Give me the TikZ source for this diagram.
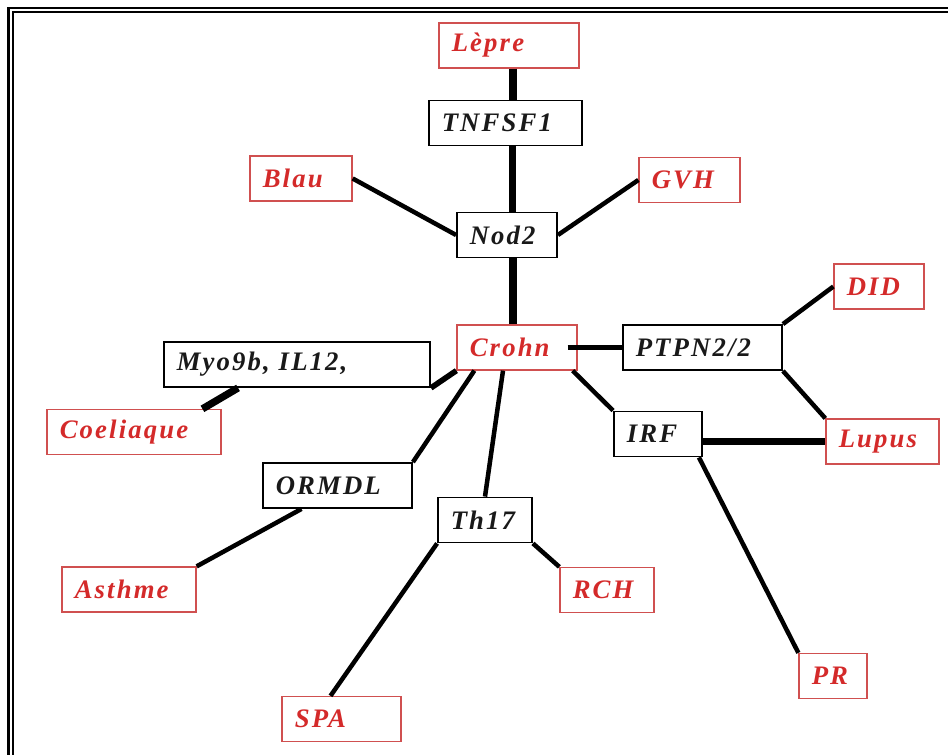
\documentclass[tikz,border=0pt]{standalone}
\usepackage{fontspec}
\usepackage{tikz}
\usetikzlibrary{calc}
\newfontfamily\boxfont{Liberation Serif}[LetterSpace=8]
\definecolor{disred}{HTML}{D42A2A}
\definecolor{disframe}{HTML}{D05050}

\begin{document}
\begin{tikzpicture}[x=0.025cm, y=-0.025cm,
    bx/.style={rectangle, fill=white, minimum height=1.125cm, inner xsep=0.32cm,
      inner ysep=0, align=left, font=\boxfont\bfseries\itshape\fontsize{19}{21}\selectfont},
    dis/.style={bx, draw=disframe, line width=0.9pt, text=disred},
    gen/.style={bx, draw=black, line width=1.3pt, text=black!90},
    lk/.style={line width=3.2pt},
    lkm/.style={line width=4pt},
    lkk/.style={line width=5.2pt}]
\useasboundingbox (0,0) rectangle (948,755);
% double frame, top and left only
\draw[line width=2.1pt] (8.5,755) -- (8.5,8) -- (948,8);
\draw[line width=1.4pt] (13,755) -- (13,12.2) -- (948,12.2);
% boxes
\node[dis, text width=2.86cm]  (lepre)  at (509,45.5)   {Lèpre};
\node[gen, text width=3.185cm] (tnf)    at (505.5,123)  {TNFSF1};
\node[gen, text width=1.86cm]  (nod)    at (507,235)    {Nod2};
\node[dis, text width=1.91cm]  (blau)   at (301,178.5)  {Blau};
\node[dis, text width=1.885cm] (gvh)    at (689.5,180)  {GVH};
\node[dis, text width=2.36cm]  (crohn)  at (517,347.5)  {Crohn};
\node[gen, text width=6.01cm]  (myo)    at (297,364.5)  {Myo9b, IL12,};
\node[dis, text width=3.71cm]  (coel)   at (134,432)    {Coeliaque};
\node[gen, text width=3.335cm] (ptpn)   at (702.5,347.5) {PTPN2/2};
\node[dis, text width=1.61cm]  (did)    at (879,286.5)  {DID};
\node[gen, text width=1.56cm]  (irf)    at (658,434)    {IRF};
\node[dis, text width=2.185cm] (lupus)  at (882.5,441.5) {Lupus};
\node[gen, text width=3.085cm] (ormdl)  at (337.5,485.5) {ORMDL};
\node[gen, text width=1.71cm]  (th)     at (485,520)    {Th17};
\node[dis, text width=1.71cm]  (rch)    at (607,590)    {RCH};
\node[dis, text width=2.71cm]  (asthme) at (129,589.5)  {Asthme};
\node[dis, text width=2.335cm] (spa)    at (341.5,719)  {SPA};
\node[dis, text width=1.06cm]  (pr)     at (833,676)    {PR};
% links
\draw[lkk] ([xshift=0.1cm]lepre.south) -- ([xshift=0.1cm]lepre.south |- tnf.north);
\draw[lkk] ([xshift=0.18cm]tnf.south) -- ([xshift=0.18cm]tnf.south |- nod.north);
\draw[lkk] ([xshift=0.15cm]nod.south) -- ([xshift=0.15cm]nod.south |- crohn.north);
\draw[lk] (blau.east) -- (nod.west);
\draw[lk] (nod.east) -- (gvh.west);
\draw[lkm] ([xshift=-0.25cm]crohn.east) -- (ptpn.west);
\draw[lkm] (crohn.south west) -- (myo.south east);
\draw[lkk] ($(myo.south west)!0.28!(myo.south east)$) -- ([xshift=-0.48cm]coel.north east);
\draw[lk] ($(crohn.south west)+(18,0)$) -- (ormdl.north east);
\draw[lk] ($(crohn.south)+(-14,0)$) -- (th.north);
\draw[lk] ($(crohn.south east)+(-5,0)$) -- (irf.north west);
\draw[lk] (ptpn.north east) -- (did.west);
\draw[lk] (ptpn.south east) -- (lupus.north west);
\draw[lkk] (irf.east |- lupus.west) -- (lupus.west);
\draw[lk] ($(irf.south east)+(-4,0)$) -- (pr.north west);
\draw[lk] ($(ormdl.south)+(-36,0)$) -- (asthme.north east);
\draw[lk] (th.south west) -- ($(spa.north)+(-11,0)$);
\draw[lk] (th.south east) -- (rch.north west);
\end{tikzpicture}
\end{document}
